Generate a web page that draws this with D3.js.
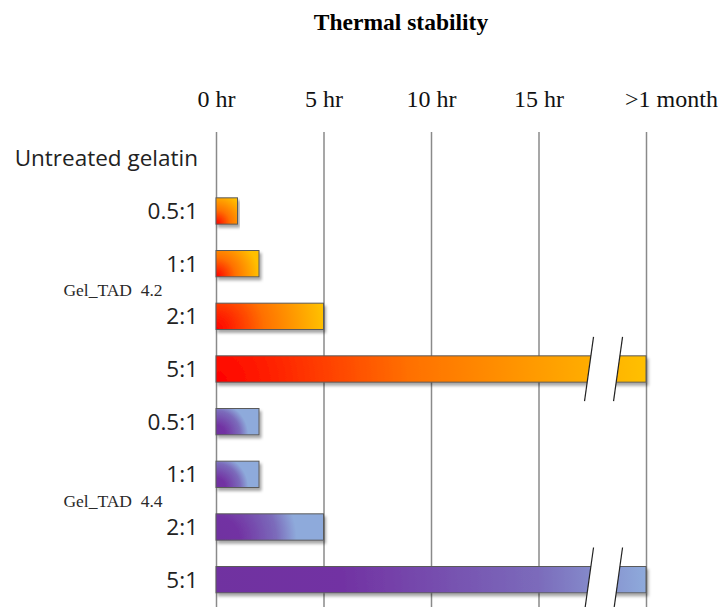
<!DOCTYPE html>
<html>
<head>
<meta charset="utf-8">
<script src="https://cdn.jsdelivr.net/npm/d3@7"></script>
<style>
  body { margin: 0; background: #fff; }
  svg { display: block; }
</style>
</head>
<body>
<div id="chart"></div>
<script>

// ---- data ----
var rowLabels = ["Untreated gelatin", "0.5:1", "1:1", "2:1", "5:1", "0.5:1", "1:1", "2:1", "5:1"];
var rowSeries = ["none", "tad42", "tad42", "tad42", "tad42", "tad44", "tad44", "tad44", "tad44"];
// hours of stability, 20 stands for ">1 month" on the axis
var hours = [0, 1, 2, 5, 20, 2, 2, 5, 20];
var tickValues = [0, 5, 10, 15, 20];
var tickLabels = ["0 hr", "5 hr", "10 hr", "15 hr", ">1 month"];
var groupLabels = ["Gel_TAD 4.2", "Gel_TAD 4.4"];
var groupRows = [[2, 3], [6, 7]];   // label sits between these rows
var breakFrom = 17.35, breakTo = 18.7;

// ---- setup ----
var W = 724, H = 607;
var svg = d3.select("#chart").append("svg")
	.attr("width", W)
	.attr("height", H);

var x = d3.scaleLinear()
	.domain([0, 20])
	.range([216, 646]);

var y = d3.scaleBand()
	.domain(d3.range(rowLabels.length))
	.range([132, 606])
	.paddingInner(0.5)
	.paddingOuter(0.25);

var defs = svg.append("defs");

// colour stops for each series
var stops = {
	tad42: [["0", "#ff0000"], ["0.45", "#ff7000"], ["1", "#ffc000"]],
	tad44: [["0", "#7030a0"], ["0.3", "#7233a3"], ["0.75", "#7b6bbb"], ["1", "#8eaadb"]]
};
// how far the colour spreads, relative to bar length
var spread = {tad42: 1, tad44: 0.75};

var shadow = defs.append("filter")
	.attr("id", "shadow")
	.attr("x", "-5%").attr("y", "-30%")
	.attr("width", "115%").attr("height", "180%");
shadow.append("feDropShadow")
	.attr("dx", 2).attr("dy", 3)
	.attr("stdDeviation", 1.8)
	.attr("flood-color", "#000")
	.attr("flood-opacity", 0.35);

// title
svg.append("text")
	.attr("x", 401)
	.attr("y", 30)
	.attr("text-anchor", "middle")
	.style("font-family", "'Liberation Serif', 'Times New Roman', serif")
	.style("font-weight", "bold")
	.style("font-size", "23.5px")
	.text("Thermal stability");

// axis + gridlines
var xAxis = d3.axisTop(x)
	.tickValues(tickValues)
	.tickFormat(function(d, i) { return tickLabels[i]; })
	.tickSize(-(H - 132))
	.tickPadding(25);

var axisG = svg.append("g")
	.attr("transform", "translate(0,132)")
	.call(xAxis);

axisG.select(".domain").remove();
axisG.selectAll(".tick line")
	.attr("stroke", "#8a8a8a")
	.attr("stroke-width", 1.5);
axisG.selectAll(".tick text")
	.style("font-family", "'Liberation Serif', 'Times New Roman', serif")
	.style("font-size", "24px")
	.attr("fill", "#111")
	.attr("dx", function(d, i) { return i == tickLabels.length - 1 ? 25 : 0; });

// row labels
svg.append("g").selectAll("text")
	.data(rowLabels)
	.enter()
	.append("text")
	.attr("x", 198)
	.attr("y", function(d, i) { return y(i) + y.bandwidth() / 2; })
	.attr("dy", "0.36em")
	.attr("text-anchor", "end")
	.style("font-family", "'Open Sans', sans-serif")
	.style("font-size", "22.5px")
	.attr("fill", "#222")
	.text(function(d) { return d; });

// group labels
svg.append("g").selectAll("text")
	.data(groupLabels)
	.enter()
	.append("text")
	.attr("x", 113)
	.attr("y", function(d, i) {
		var a = groupRows[i][0], b = groupRows[i][1];
		return (y(a) + y(b)) / 2 + y.bandwidth() / 2 + 6;
	})
	.attr("text-anchor", "middle")
	.style("font-family", "'Liberation Serif', 'Times New Roman', serif")
	.style("font-size", "17.5px")
	.style("white-space", "pre")
	.attr("fill", "#2a2a2a")
	.text(function(d) { return d.replace(" ", "  "); });

// bars
var barData = hours.map(function(h, i) { return {i: i, h: h, s: rowSeries[i]}; })
	.filter(function(d) { return d.h > 0; });

// one radial gradient per bar, centred on its bottom-left corner
barData.forEach(function(d) {
	var w = x(d.h) - x(0);
	var k = d.h >= 20 ? 1 : spread[d.s];
	var g = defs.append("radialGradient")
		.attr("id", "g" + d.i)
		.attr("gradientUnits", "userSpaceOnUse")
		.attr("cx", x(0)).attr("cy", y(d.i) + y.bandwidth())
		.attr("fx", x(0)).attr("fy", y(d.i) + y.bandwidth())
		.attr("r", Math.max(w * k, y.bandwidth() * 1.2));
	stops[d.s].forEach(function(s) {
		g.append("stop").attr("offset", s[0]).attr("stop-color", s[1]);
	});
});

svg.append("g").selectAll("rect")
	.data(barData)
	.enter()
	.append("rect")
	.attr("x", x(0))
	.attr("y", function(d) { return y(d.i); })
	.attr("width", function(d) { return x(d.h) - x(0); })
	.attr("height", y.bandwidth())
	.attr("fill", function(d) { return "url(#g" + d.i + ")"; })
	.attr("stroke", "#5a5a5a")
	.attr("stroke-width", 1)
	.attr("filter", "url(#shadow)");

// axis break on the long bars
var longBars = barData.filter(function(d) { return d.h > breakTo; });
var ext = 19, lean = 4.5;
var breaks = svg.append("g").selectAll("g")
	.data(longBars)
	.enter()
	.append("g");

function slashX(xc, yy, top, bot) {
	// x along the slash for a given y
	var t = (yy - (top - ext)) / ((bot + ext) - (top - ext));
	return xc + lean - 2 * lean * t;
}

breaks.append("path")
	.attr("fill", "#fff")
	.attr("d", function(d) {
		var top = y(d.i), bot = top + y.bandwidth();
		var a = x(breakFrom), b = x(breakTo);
		var y0 = top - 3, y1 = bot + 8;
		return "M" + slashX(a, y0, top, bot) + "," + y0 +
			"L" + slashX(b, y0, top, bot) + "," + y0 +
			"L" + slashX(b, y1, top, bot) + "," + y1 +
			"L" + slashX(a, y1, top, bot) + "," + y1 + "Z";
	});

[breakFrom, breakTo].forEach(function(v) {
	breaks.append("line")
		.attr("x1", x(v) + lean)
		.attr("x2", x(v) - lean)
		.attr("y1", function(d) { return y(d.i) - ext; })
		.attr("y2", function(d) { return y(d.i) + y.bandwidth() + ext; })
		.attr("stroke", "#222")
		.attr("stroke-width", 1.2);
});

</script>
</body>
</html>
